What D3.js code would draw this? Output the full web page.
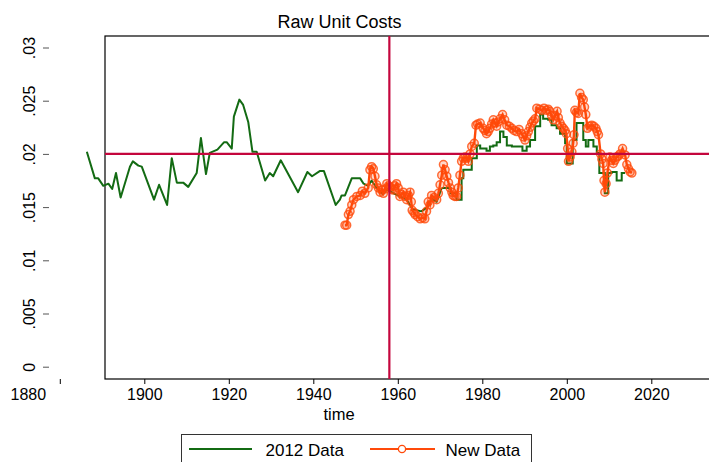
<!DOCTYPE html>
<html>
<head>
<meta charset="utf-8">
<script src="https://cdn.jsdelivr.net/npm/d3@7"></script>
<style>
  body { margin: 0; background: #fff; }
  svg { font-family: "Liberation Sans", Arial, sans-serif; }
</style>
</head>
<body>
<div id="chart"></div>
<script>

// 2012 Data (green line)
var oldYears = [1886.4, 1888.3, 1889.1, 1890.3, 1891.5, 1892.4, 1893.3, 1894.4, 1896.6, 1897.3,
    1898.6, 1899.4, 1902.3, 1903.5, 1905.4, 1906.5, 1907.7, 1909.2, 1910.4, 1912.4,
    1913.4, 1914.6, 1915.5, 1917.3, 1918.9, 1919.5, 1920.7, 1921.2, 1922.5, 1923.4,
    1924.6, 1925.6, 1926.6, 1928.6, 1929.7, 1930.5, 1932.3, 1936.4, 1938.6, 1939.7,
    1941.6, 1942.5, 1945.3, 1946.3, 1946.7, 1947.5, 1948.3, 1949.1, 1951.1, 1951.9,
    1953.0, 1953.8, 1955.0, 1956.5, 1957.5, 1959.0, 1960.5, 1962.1, 1963.5, 1965.6,
    1967.0, 1968.0, 1969.2, 1970.4, 1971.5, 1972.5, 1973.9, 1975.1, 1975.5, 1976.7,
    1977.5, 1978.3, 1978.7, 1979.5, 1980.3, 1981.0, 1981.8, 1982.6, 1983.4, 1984.2,
    1985.0, 1985.8, 1987.0, 1988.5, 1989.5, 1990.5, 1991.3, 1992.5, 1993.7, 1994.4,
    1995.6, 1996.4, 1997.6, 1998.4, 1999.6, 2000.0, 2000.8, 2001.4, 2002.3, 2003.1,
    2003.9, 2004.5, 2005.1, 2006.3, 2007.1, 2007.7, 2008.2, 2009.0, 2009.8, 2010.6,
    2011.4, 2011.8, 2012.6, 2013.0, 2013.8]
var oldValues = [.0202, .0177, .0177, .0170, .0172, .0167, .0182, .0159, .0188, .0193,
    .0189, .0188, .0157, .0171, .0152, .0196, .0173, .0173, .0169, .0182,
    .0215, .0181, .0201, .0204, .0211, .0211, .0205, .0235, .0251, .0246,
    .0230, .0202, .0202, .0175, .0182, .0179, .0194, .0164, .0183, .0179,
    .0184, .0184, .0152, .0157, .0161, .0161, .0169, .0177, .0177, .0172,
    .0170, .0175, .0168, .0162, .0167, .0163, .0160, .0157, .0148, .0146,
    .0150, .0158, .0155, .0168, .0168, .0163, .0157, .0177, .0185, .0185,
    .0196, .0196, .0208, .0205, .0205, .0203, .0207, .0208, .0211, .0221,
    .0216, .0208, .0207, .0207, .0203, .0207, .0213, .0226, .0237, .0233,
    .0232, .0227, .0224, .0219, .0210, .0191, .0191, .0213, .0229, .0229,
    .0213, .0207, .0213, .0207, .0201, .0182, .0182, .0163, .0182, .0183,
    .0183, .0175, .0175, .0182, .0182]

// New Data (orange line with hollow circles)
var newYears = [1947.5, 1947.9, 1948.3, 1948.7, 1949.1, 1949.5, 1950.3, 1951.1, 1951.6, 1952.2,
    1953.0, 1953.4, 1953.8, 1954.2, 1954.6, 1955.0, 1955.4, 1955.8, 1956.2, 1956.6,
    1957.0, 1957.4, 1957.8, 1958.2, 1958.6, 1958.9, 1959.3, 1959.7, 1960.1, 1960.5,
    1960.9, 1961.3, 1961.7, 1962.1, 1962.5, 1962.9, 1963.2, 1963.4, 1963.8, 1964.1,
    1964.7, 1965.3, 1965.9, 1966.4, 1966.8, 1967.2, 1967.6, 1968.0, 1968.6, 1969.2,
    1969.6, 1970.0, 1970.4, 1970.8, 1971.2, 1971.6, 1972.0, 1972.4, 1972.8, 1973.1,
    1973.5, 1973.9, 1974.3, 1974.7, 1975.1, 1975.5, 1975.9, 1976.3, 1976.7, 1977.1,
    1977.5, 1978.1, 1978.5, 1978.9, 1979.5, 1980.2, 1980.6, 1981.0, 1981.4, 1981.8,
    1982.2, 1982.6, 1983.0, 1983.4, 1983.8, 1984.2, 1984.8, 1985.3, 1985.8, 1986.4,
    1987.0, 1987.5, 1988.1, 1988.7, 1989.3, 1989.7, 1990.1, 1990.5, 1990.9, 1991.3,
    1991.7, 1992.1, 1992.5, 1992.9, 1993.5, 1994.1, 1994.6, 1995.2, 1995.6, 1996.0,
    1996.4, 1996.8, 1997.2, 1997.7, 1998.0, 1998.4, 1998.8, 1999.2, 1999.6, 1999.9,
    2000.2, 2000.4, 2000.8, 2001.2, 2001.5, 2001.7, 2001.9, 2002.3, 2002.7, 2003.1,
    2003.5, 2003.9, 2004.2, 2004.5, 2004.9, 2005.4, 2005.9, 2006.4, 2006.9, 2007.2,
    2007.5, 2008.0, 2008.3, 2008.6, 2008.8, 2009.0, 2009.3, 2009.6, 2010.2, 2010.6,
    2011.0, 2011.4, 2011.8, 2012.2, 2012.6, 2013.2, 2013.8, 2014.2, 2014.6, 2015.0,
    2015.4]
var newValues = [.0133, .0133, .0143, .0146, .0152, .0157, .0160, .0161, .0165, .0163,
    .0168, .0185, .0188, .0186, .0179, .0171, .0168, .0164, .0166, .0163,
    .0167, .0172, .0170, .0169, .0167, .0166, .0170, .0172, .0168, .0160,
    .0162, .0164, .0160, .0157, .0161, .0164, .0155, .0147, .0145, .0143,
    .0141, .0139, .0140, .0139, .0146, .0155, .0152, .0161, .0159, .0157,
    .0163, .0171, .0180, .0190, .0185, .0179, .0173, .0168, .0164, .0161,
    .0160, .0160, .0168, .0180, .0193, .0196, .0197, .0196, .0193, .0200,
    .0207, .0210, .0227, .0228, .0229, .0224, .0222, .0219, .0221, .0224,
    .0228, .0232, .0229, .0226, .0230, .0233, .0237, .0232, .0227, .0226,
    .0224, .0222, .0221, .0223, .0219, .0216, .0213, .0217, .0221, .0225,
    .0229, .0231, .0233, .0243, .0242, .0241, .0243, .0241, .0242, .0240,
    .0236, .0232, .0236, .0240, .0234, .0229, .0226, .0224, .0222, .0219,
    .0205, .0193, .0197, .0202, .0210, .0218, .0241, .0239, .0238, .0257,
    .0253, .0251, .0244, .0237, .0224, .0226, .0227, .0226, .0224, .0221,
    .0218, .0200, .0195, .0191, .0175, .0164, .0172, .0182, .0197, .0194,
    .0191, .0194, .0197, .0198, .0200, .0205, .0199, .0190, .0186, .0183,
    .0182]

var xTicks = [1880, 1900, 1920, 1940, 1960, 1980, 2000, 2020]
var yTicks = [0, .005, .01, .015, .02, .025, .03]
var seriesNames = ['2012 Data', 'New Data']
var refValue = .02
var refYear = 1958

var width = 709, height = 462
var green = '#136b13', orange = '#ff4a0a', cranberry = '#c4063d'

var svg = d3.select('#chart')
    .append('svg')
        .attr('width', width)
        .attr('height', height)

var x = d3.scaleLinear().domain([1880, 2020]).range([59.8, 651.3])
var y = d3.scaleLinear().domain([0, .03]).range([366.7, 47.5])

var box = {left: 105, top: 36, right: 740, bottom: 379}

// plot region frame
svg.append('rect')
    .attr('x', box.left)
    .attr('y', box.top)
    .attr('width', box.right - box.left)
    .attr('height', box.bottom - box.top)
    .attr('fill', 'none')
    .attr('stroke', '#000')
    .attr('stroke-width', 1.2)

// title
svg.append('text')
    .attr('x', 339.5)
    .attr('y', 28)
    .attr('text-anchor', 'middle')
    .style('font-size', '18px')
    .text('Raw Unit Costs')

// x axis (ticks only, the frame gives the line)
var xAxis = svg.append('g')
    .attr('transform', 'translate(0,' + box.bottom + ')')
    .call(d3.axisBottom(x).tickValues(xTicks).tickSize(5).tickPadding(5).tickFormat(d3.format('d')))
xAxis.select('.domain').remove()
xAxis.selectAll('text')
    .style('font-size', '16px')
    .attr('fill', '#000')
    .attr('dx', function(d) { return d === 1880 ? -32 : 0 })
xAxis.selectAll('line').attr('stroke', '#000')

svg.append('text')
    .attr('x', 339)
    .attr('y', 420)
    .attr('text-anchor', 'middle')
    .style('font-size', '16.5px')
    .text('time')

// y axis, detached to the left of the frame
var yAxis = svg.append('g')
    .attr('transform', 'translate(49,0)')
    .call(d3.axisLeft(y).tickValues(yTicks).tickSize(6)
        .tickFormat(function(d) { return d === 0 ? '0' : String(d).replace('0.', '.') }))
yAxis.select('.domain').remove()
yAxis.selectAll('line').attr('stroke', '#555')
yAxis.selectAll('text')
    .style('font-size', '16px')
    .attr('fill', '#000')
    .attr('x', null)
    .attr('dy', null)
    .attr('text-anchor', 'middle')
    .attr('transform', function(d) { return 'translate(-14,0) rotate(-90)' })

// 2012 data: diagonal joins early on, staircase from 1970
var oldPts = oldYears.map(function(yr, i) { return [yr, oldValues[i]] })
var stepFrom = oldYears.indexOf(1970.4)

svg.append('path')
    .datum(oldPts.slice(0, stepFrom + 1))
    .attr('fill', 'none')
    .attr('stroke', green)
    .attr('stroke-width', 2)
    .attr('stroke-linejoin', 'round')
    .attr('d', d3.line().x(function(d) { return x(d[0]) }).y(function(d) { return y(d[1]) }))

svg.append('path')
    .datum(oldPts.slice(stepFrom))
    .attr('fill', 'none')
    .attr('stroke', green)
    .attr('stroke-width', 2)
    .attr('d', d3.line().curve(d3.curveStepAfter).x(function(d) { return x(d[0]) }).y(function(d) { return y(d[1]) }))

// new data
var newPts = newYears.map(function(yr, i) { return [yr, newValues[i]] })

svg.append('path')
    .datum(newPts)
    .attr('fill', 'none')
    .attr('stroke', orange)
    .attr('stroke-width', 2.4)
    .attr('d', d3.line().x(function(d) { return x(d[0]) }).y(function(d) { return y(d[1]) }))

svg.append('g')
    .selectAll('circle')
    .data(newPts)
    .enter()
    .append('circle')
        .attr('cx', function(d) { return x(d[0]) })
        .attr('cy', function(d) { return y(d[1]) })
        .attr('r', 4)
        .attr('fill', orange)
        .attr('fill-opacity', 0.22)
        .attr('stroke', orange)
        .attr('stroke-opacity', 0.8)
        .attr('stroke-width', 1.5)

// reference lines
svg.append('line')
    .attr('x1', box.left).attr('x2', box.right)
    .attr('y1', y(refValue)).attr('y2', y(refValue))
    .attr('stroke', cranberry)
    .attr('stroke-width', 2.2)

svg.append('line')
    .attr('x1', x(refYear)).attr('x2', x(refYear))
    .attr('y1', box.top).attr('y2', box.bottom)
    .attr('stroke', cranberry)
    .attr('stroke-width', 2.2)

// legend
var legend = svg.append('g')
legend.append('rect')
    .attr('x', 181.5).attr('y', 434.5)
    .attr('width', 350).attr('height', 40)
    .attr('fill', '#fff')
    .attr('stroke', '#333')
    .attr('stroke-width', 1)

legend.append('line')
    .attr('x1', 189).attr('x2', 252).attr('y1', 449).attr('y2', 449)
    .attr('stroke', green).attr('stroke-width', 2)
legend.append('text')
    .attr('x', 265.5).attr('y', 456)
    .style('font-size', '17px')
    .text(seriesNames[0])

legend.append('line')
    .attr('x1', 370).attr('x2', 435).attr('y1', 449).attr('y2', 449)
    .attr('stroke', orange).attr('stroke-width', 2)
legend.append('circle')
    .attr('cx', 402).attr('cy', 449).attr('r', 3.6)
    .attr('fill', '#fff')
    .attr('stroke', orange).attr('stroke-width', 1.3)
legend.append('text')
    .attr('x', 445.5).attr('y', 456)
    .style('font-size', '17px')
    .text(seriesNames[1])

</script>
</body>
</html>
